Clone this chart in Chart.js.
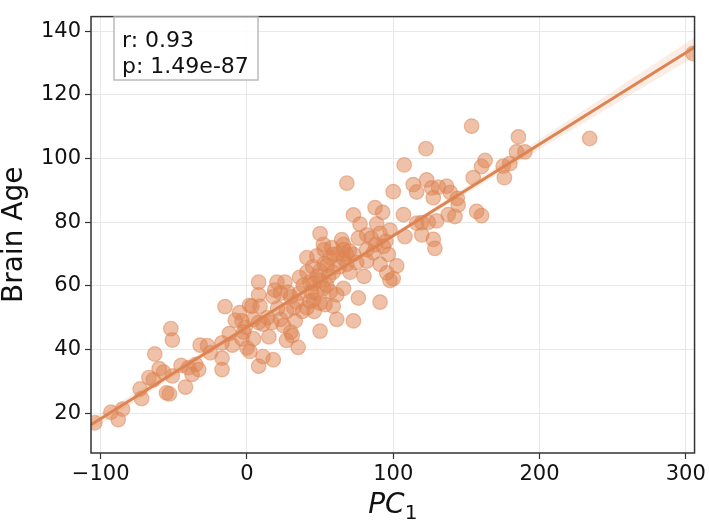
<!DOCTYPE html>
<html>
<head>
<meta charset="utf-8">
<script src="https://cdn.jsdelivr.net/npm/chart.js@4/dist/chart.umd.min.js"></script>
<style>
  html, body { margin: 0; padding: 0; background: #fff; }
  #wrap { width: 709px; height: 522px; }
</style>
</head>
<body>
<div id="wrap"><canvas id="pcChart" width="709" height="522"></canvas></div>
<script>
// dane
const pcX = [
    -104, -93, -88, -85, -73, -72, -67, -64, -63, -57, -55, -53, -52, -51, -51, -42, -40, -37.5, -35, -33,
    -32, -27, -17, -17, -17, -15, -10, -8, -5, -3.4, -1.2, -2.3, -3.4, 0, 2, 1.8, 3.4, 4.5, 4.5, 8,
    8, 8, 8, 9, 11, 11, 17, 18, 18, 19, 20.5, 23, 23, 25, 26, 27, 27, 30, 30, 31,
    32, 35, 36, 36, 38.6, 41, 41, 41, 43, 43, 45.5, 45.5, 47, 47.8, 50, 50, 50, 50, 50, 52.3,
    52.8, 52.3, 53.4, 54.6, 55, 57, 57, 59, 59, 59, 61.4, 61.4, 64.8, 66, 66, 66, 66, 68.3, 68.3, 70.5,
    72.8, 72.8, 72.8, 75, 76.2, 76.2, 77.3, 81.9, 81.9, 81.9, 86.4, 87.6, 88.7, 91, 91, 91, 92.8, 93.2, 95.6, 96.7,
    97.8, 97.8, 100, 100, 102.4, 107.5, 107, 108, 113.7, 116, 116, 119.5, 119.5, 122.4, 122.9, 124, 126.3, 127.4, 127.4, 128.5,
    129.7, 131, 136.5, 137.6, 139, 142.2, 143.8, 144.4, 153.6, 154.7, 157, 160.4, 160.4, 162.8, 175.2, 176, 179.7, 184.3, 185.6, 190,
    234.3, 305,
    45, 48, 53, 56, 58, 62, 63, 68, 70, 44, 34, 28, 14, 21, 38, -12, 15, 33, 46, 80,
    85, 88, 95, -60, -45, -25
];
const brainAge = [
    17, 20.3, 18, 21.3, 27.6, 24.6, 31.2, 30.5, 38.6, 32.9, 26.4, 26.1, 46.6, 43, 31.7, 28.2, 34.3, 32.2, 35.3, 33.7,
    41.4, 41.2, 42.1, 37.3, 33.7, 53.5, 41.4, 49.2, 51.6, 49, 47, 45.5, 43.4, 40.5, 39.4, 53.9, 53.6, 49.5, 43.4, 48.5,
    57.2, 61.2, 34.8, 53.6, 48, 37.8, 48.5, 56.6, 36.8, 58.7, 61.2, 57.7, 49.5, 47.5, 61.2, 52, 42.9, 56.6, 45.5, 44.4,
    53.1, 40.7, 62.7, 57.7, 60.2, 68.9, 64.3, 53.1, 61.2, 55.1, 60.7, 55.6, 57.7, 69.4, 76.4, 61.7, 64.8, 54.6, 45.8, 73,
    71.4, 59.2, 54.1, 60.2, 66.5, 68.9, 58.2, 69.9, 64.3, 53.6, 57.2, 49.5, 74.5, 73, 68.4, 71.4, 59.2, 66.8, 92.3, 64.3,
    82.3, 69.9, 49, 67.3, 75, 56.2, 79.4, 76, 71.4, 67.8, 70.4, 84.6, 79.5, 76.5, 66.8, 54.9, 83.1, 72.4, 64.1, 69.9,
    77.5, 61.7, 62.3, 89.6, 66.3, 98, 82.4, 75.5, 91.8, 89.5, 79.7, 76, 79.9, 103.1, 93.3, 80, 90.8, 87.7, 74.6, 71.8,
    80.4, 91, 91.3, 82.4, 89.4, 81.8, 87.5, 85.4, 110.2, 94, 83.4, 82.1, 97.5, 99.4, 97.6, 94, 98.4, 102.1, 106.8, 102.1,
    106.3, 133,
    66, 63, 67, 63, 72, 70, 66, 70, 71, 58, 55, 58, 50, 53, 52, 45, 44, 49, 52, 63,
    75, 73, 74, 34, 35, 39
];

// linia regresji i przedział ufności
const lineX = [-106.6, 306];
const lineY = [16.35, 135.0];
const bandX = [-106.6, -50, 0, 50, 100, 150, 200, 250, 306];
const bandLow = [14.6, 31.5, 46.3, 60.85, 75.1, 89.0, 102.9, 116.7, 132.0];
const bandHigh = [18.1, 33.7, 47.7, 61.95, 76.4, 91.2, 106.1, 121.1, 138.0];

const xTicks = [-100, 0, 100, 200, 300];
const yTicks = [20, 40, 60, 80, 100, 120, 140];
const statsLines = ["r: 0.93", "p: 1.49e-87"];
const xTitle = ["PC", "1"];   // PC z indeksem dolnym 1

const ORANGE = "rgb(221,132,82)";
const FONT = "DejaVu Sans";
const INK = "#111";

const frame = {
    id: "frame",
    afterDraw(chart) {
        const { ctx, chartArea: a } = chart;
        ctx.save();
        ctx.strokeStyle = "#333";
        ctx.lineWidth = 1.5;
        ctx.strokeRect(a.left, a.top, a.right - a.left, a.bottom - a.top);

        // ramka z r / p
        const bx = 114, by = 17, bw = 144, bh = 63;
        ctx.fillStyle = "rgba(255,255,255,0.85)";
        ctx.fillRect(bx, by, bw, bh);
        ctx.strokeStyle = "#bbb";
        ctx.lineWidth = 1.5;
        ctx.strokeRect(bx, by, bw, bh);
        ctx.fillStyle = INK;
        ctx.font = `22px "${FONT}"`;
        ctx.textBaseline = "alphabetic";
        ctx.textAlign = "left";
        ctx.fillText(statsLines[0], bx + 8, by + 30);
        ctx.fillText(statsLines[1], bx + 8, by + 56);

        // tytuł osi X
        ctx.font = `italic 28px "${FONT}"`;
        const w1 = ctx.measureText(xTitle[0]).width;
        ctx.font = `20px "${FONT}"`;
        const w2 = ctx.measureText(xTitle[1]).width;
        const cx = (a.left + a.right) / 2;
        const x0 = cx - (w1 + w2) / 2;
        ctx.font = `italic 28px "${FONT}"`;
        ctx.fillText(xTitle[0], x0, 513);
        ctx.font = `20px "${FONT}"`;
        ctx.fillText(xTitle[1], x0 + w1, 519);
        ctx.restore();
    }
};

new Chart(document.getElementById("pcChart"), {
    type: "scatter",
    data: {
        datasets: [
            {
                type: "line",
                data: bandX.map((x, i) => ({ x, y: bandHigh[i] })),
                borderWidth: 0,
                pointRadius: 0,
                tension: 0.4,
                fill: "+1",
                backgroundColor: "rgba(221,132,82,0.15)",
                clip: 0,
                order: 1
            },
            {
                type: "line",
                data: bandX.map((x, i) => ({ x, y: bandLow[i] })),
                borderWidth: 0,
                pointRadius: 0,
                tension: 0.4,
                fill: false,
                clip: 0,
                order: 1
            },
            {
                type: "line",
                data: lineX.map((x, i) => ({ x, y: lineY[i] })),
                borderColor: ORANGE,
                borderWidth: 3,
                pointRadius: 0,
                fill: false,
                clip: 0,
                order: 0
            },
            {
                data: pcX.map((x, i) => ({ x, y: brainAge[i] })),
                backgroundColor: "rgba(221,132,82,0.5)",
                borderColor: "rgba(221,132,82,0.5)",
                borderWidth: 1.2,
                pointRadius: 7.3,
                pointHoverRadius: 7.3,
                clip: 0,
                order: 2
            }
        ]
    },
    options: {
        responsive: false,
        animation: false,
        events: [],
        layout: { padding: { top: 3, right: 13, left: 0, bottom: 0 } },
        plugins: { legend: { display: false }, tooltip: { enabled: false } },
        scales: {
            x: {
                type: "linear",
                min: -106.6,
                max: 306,
                afterBuildTicks: s => { s.ticks = xTicks.map(v => ({ value: v })); },
                afterFit: s => { s.height = 69; },
                grid: { color: "#e8e8e8", lineWidth: 1, tickColor: "#333", tickLength: 6, tickWidth: 1.2 },
                border: { display: false },
                ticks: {
                    font: { family: FONT, size: 21 },
                    color: INK,
                    padding: 3,
                    maxRotation: 0,
                    callback: v => String(v).replace("-", "\u2212")
                },
                title: { display: false }
            },
            y: {
                type: "linear",
                min: 7.5,
                max: 144.6,
                afterBuildTicks: s => { s.ticks = yTicks.map(v => ({ value: v })); },
                afterFit: s => { s.width = 91; },
                grid: { color: "#e8e8e8", lineWidth: 1, tickColor: "#333", tickLength: 6, tickWidth: 1.2 },
                border: { display: false },
                ticks: {
                    font: { family: FONT, size: 21 },
                    color: INK,
                    padding: 4
                },
                title: {
                    display: true,
                    text: "Brain Age",
                    font: { family: FONT, size: 28, lineHeight: 1 },
                    color: INK,
                    padding: { top: 1, bottom: 0 }
                }
            }
        }
    },
    plugins: [frame]
});
</script>
</body>
</html>
